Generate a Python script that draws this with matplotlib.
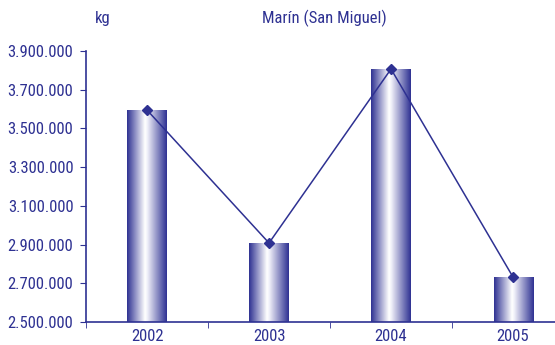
import matplotlib
matplotlib.use("Agg")
import matplotlib.pyplot as plt
import numpy as np
from matplotlib.colors import LinearSegmentedColormap
from matplotlib.ticker import FuncFormatter
from matplotlib import font_manager

years = ["2002", "2003", "2004", "2005"]
kg = [3595000, 2908000, 3807000, 2732000]

blue = "#2e3192"
names = {f.name for f in font_manager.fontManager.ttflist}
narrow = [n for n in ["Liberation Sans Narrow", "Roboto Condensed", "DejaVu Sans"] if n in names]
plt.rcParams['font.family'] = narrow + ['DejaVu Sans']
plt.rcParams['font.stretch'] = 'condensed'

fig = plt.figure(figsize=(5.55, 3.45), dpi=100)
ax = fig.add_axes([86 / 555, 1 - 322 / 345, 1 - 86 / 555, (322 - 51) / 345])

# gradient used for each bar: dark edges, light centre
cmap = LinearSegmentedColormap.from_list(
    "barfill", [(0, blue), (0.45, "#ffffff"), (0.5, "#f4f4fb"), (1, blue)])
grad = np.linspace(0, 1, 256).reshape(1, -1)

x = np.arange(len(years))
width = 0.32
ymin, ymax = 2500000, 3900000
for xi, v in zip(x, kg):
    ax.imshow(grad, cmap=cmap, aspect="auto",
              extent=[xi - width / 2, xi + width / 2, ymin, v], zorder=2)

ax.plot(x, kg, color=blue, lw=1.1, marker="D", ms=5, zorder=3)

ax.set_xlim(-0.5, 3.344)
ax.set_ylim(ymin, ymax)
ax.set_yticks(np.arange(ymin, ymax + 1, 200000))
ax.yaxis.set_major_formatter(FuncFormatter(lambda v, p: f"{int(v):,}".replace(",", ".")))
ax.set_xticks(x)
ax.set_xticklabels(years)
ax.set_xticks([-0.5, 0.5, 1.5, 2.5], minor=True)

for s in ["top", "right"]:
    ax.spines[s].set_visible(False)
for s in ["left", "bottom"]:
    ax.spines[s].set_color(blue)
    ax.spines[s].set_linewidth(1.2)

ax.tick_params(axis="x", which="major", length=0, pad=5, labelsize=12, labelcolor=blue)
ax.tick_params(axis="x", which="minor", length=4, color=blue)
ax.tick_params(axis="y", length=4, color=blue, pad=5, labelsize=12, labelcolor=blue)

fig.text(103 / 555, 1 - 18 / 345, "kg", color=blue, fontsize=12, ha="center", va="center")
fig.text(324 / 555, 1 - 18 / 345, "Marín (San Miguel)", color=blue, fontsize=12, ha="center", va="center")

fig.savefig("out.png", dpi=100)
